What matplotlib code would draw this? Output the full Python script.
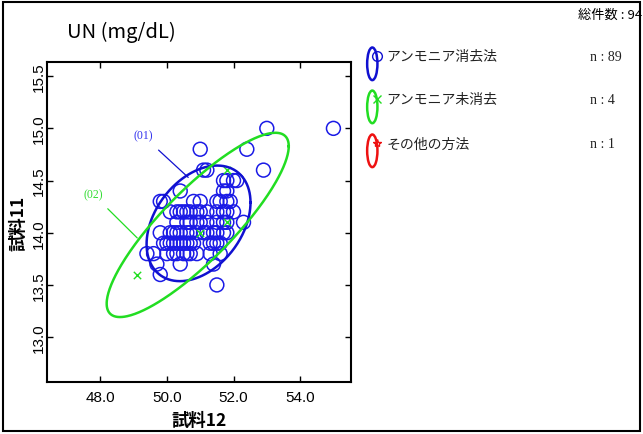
import numpy as np
import matplotlib
matplotlib.use('Agg')
import matplotlib.pyplot as plt
from matplotlib.patches import Rectangle, Ellipse

plt.rcParams['font.family'] = ['Noto Sans CJK JP', 'DejaVu Sans']

# 試料12 (x) / 試料11 (y) -- アンモニア消去法
blue_x = [53.0, 55.0, 51.0, 52.4, 52.9, 51.1, 51.2,
          51.7, 51.8, 52.0, 52.1,
          50.4, 51.7, 51.8,
          49.8, 49.9, 50.8, 51.0, 51.5, 51.6, 51.8, 51.9,
          50.1, 50.3, 50.4, 50.6, 50.7, 50.9, 51.0, 51.2, 51.5, 51.7, 51.8, 52.0,
          50.3, 50.6, 50.7, 50.9, 51.0, 51.2, 51.5, 51.7, 51.8, 52.3,
          49.8, 50.1, 50.2, 50.3, 50.4, 50.6, 50.7, 50.9, 51.1, 51.2, 51.4, 51.5, 51.7, 51.8,
          49.9, 50.0, 50.1, 50.2, 50.3, 50.4, 50.5, 50.6, 50.7, 50.8, 51.3, 51.4, 51.5, 51.6,
          49.4, 49.6, 50.0, 50.2, 50.3, 50.5, 50.6, 50.7, 50.9, 51.6,
          49.7, 50.4, 51.4,
          49.8,
          51.5,
          50.5, 51.3]
blue_y = [15.0, 15.0, 14.8, 14.8, 14.6, 14.6, 14.6,
          14.5, 14.5, 14.5, 14.5,
          14.4, 14.4, 14.4,
          14.3, 14.3, 14.3, 14.3, 14.3, 14.3, 14.3, 14.3,
          14.2, 14.2, 14.2, 14.2, 14.2, 14.2, 14.2, 14.2, 14.2, 14.2, 14.2, 14.2,
          14.1, 14.1, 14.1, 14.1, 14.1, 14.1, 14.1, 14.1, 14.1, 14.1,
          14.0, 14.0, 14.0, 14.0, 14.0, 14.0, 14.0, 14.0, 14.0, 14.0, 14.0, 14.0, 14.0, 14.0,
          13.9, 13.9, 13.9, 13.9, 13.9, 13.9, 13.9, 13.9, 13.9, 13.9, 13.9, 13.9, 13.9, 13.9,
          13.8, 13.8, 13.8, 13.8, 13.8, 13.8, 13.8, 13.8, 13.8, 13.8,
          13.7, 13.7, 13.7,
          13.6,
          13.5,
          14.2, 13.8]

# アンモニア未消去
green_x = [49.1, 51.0, 51.8, 51.8]
green_y = [13.6, 14.0, 14.1, 14.6]

# 確率楕円 (01) の統計量
blue_mean = (50.95, 14.09)
blue_sd = (0.727, 0.258)
blue_r = 0.36
k90 = 2.146

group_names = ['アンモニア消去法', 'アンモニア未消去', 'その他の方法']
group_n = [89, 4, 1]
total_n = 94


def ellipse_xy(mean, sd, r, k, num=400):
    t = np.linspace(0, 2 * np.pi, num)
    cov = np.array([[sd[0] ** 2, r * sd[0] * sd[1]], [r * sd[0] * sd[1], sd[1] ** 2]])
    L = np.linalg.cholesky(cov)
    pts = k * L @ np.vstack([np.cos(t), np.sin(t)])
    return pts[0] + mean[0], pts[1] + mean[1]


fig = plt.figure(figsize=(6.43, 4.35), dpi=100)
fig.add_artist(Rectangle((0.004, 0.006), 0.991, 0.987, transform=fig.transFigure,
                         fill=False, edgecolor='black', linewidth=1.5))
ax = fig.add_axes([0.0731, 0.1195, 0.4729, 0.7355])

ax.scatter(blue_x, blue_y, s=100, facecolors='none', edgecolors='#1a1ae6', linewidths=1.1, zorder=3)
ax.scatter(green_x, green_y, s=28, marker='x', color='#22dd22', linewidths=1.0, zorder=4)

bx, by = ellipse_xy(blue_mean, blue_sd, blue_r, k90)
ax.plot(bx, by, color='#1010d0', linewidth=1.8, zorder=5)

g = np.vstack([green_x, green_y])
g_mean = g.mean(axis=1)
g_cov = np.cov(g)
g_sd = np.sqrt(np.diag(g_cov))
g_r = g_cov[0, 1] / (g_sd[0] * g_sd[1])
gx, gy = ellipse_xy(g_mean, g_sd, g_r, k90)
ax.plot(gx, gy, color='#22dd22', linewidth=1.8, zorder=5)

ax.annotate('(01)', xy=(50.64, 14.53), xytext=(49.28, 14.93), color='#3333ee',
            fontsize=8.5, family='Liberation Serif', ha='center', va='center',
            arrowprops=dict(arrowstyle='-', color='#1010d0', lw=0.9, shrinkA=6, shrinkB=0))
ax.annotate('(02)', xy=(49.11, 13.95), xytext=(47.78, 14.37), color='#33dd33',
            fontsize=8.5, family='Liberation Serif', ha='center', va='center',
            arrowprops=dict(arrowstyle='-', color='#22dd22', lw=0.9, shrinkA=6, shrinkB=0))

ax.set_xlim(46.4, 55.53)
ax.set_ylim(12.57, 15.635)
ax.set_xticks([48, 50, 52, 54])
ax.set_yticks([13.0, 13.5, 14.0, 14.5, 15.0, 15.5])
ax.set_xticklabels(['48.0', '50.0', '52.0', '54.0'], family='Liberation Sans', fontsize=11)
ax.set_yticklabels(['13.0', '13.5', '14.0', '14.5', '15.0', '15.5'], family='Liberation Sans',
                   fontsize=11, rotation=90, va='center')
ax.tick_params(direction='in', length=4, width=1, top=True, right=True)
ax.tick_params(axis='x', pad=6)
ax.tick_params(axis='y', pad=1)
for sp in ax.spines.values():
    sp.set_linewidth(1.5)

ax.set_xlabel('試料12', fontsize=12.5, fontweight='bold', labelpad=5)
ax.set_ylabel('試料11', fontsize=12.5, fontweight='bold', labelpad=3)

fig.text(0.104, 0.926, 'UN (mg/dL)', fontsize=14.5, ha='left', va='center')
fig.text(0.899, 0.965, f'総件数 : {total_n}', fontsize=9.5, ha='left', va='center')

# 凡例
leg_colors = ['#1010d0', '#22dd22', '#ee1111']
leg_markers = ['o', 'x', '*']
leg_y = [0.868, 0.769, 0.668]
for name, n, col, mk, yy in zip(group_names, group_n, leg_colors, leg_markers, leg_y):
    fig.add_artist(Ellipse((0.579, yy - 0.017), 0.016, 0.075, transform=fig.transFigure,
                           fill=False, edgecolor=col, linewidth=1.8))
    fig.add_artist(plt.Line2D([0.586], [yy], transform=fig.transFigure, marker=mk,
                              markersize=7 if mk == 'o' else 6, markerfacecolor='none',
                              markeredgecolor=col, linestyle='none'))
    fig.text(0.601, yy, name, fontsize=10, ha='left', va='center', color='#222222')
    fig.text(0.917, yy, f'n : {n}', fontsize=10, family='Liberation Serif',
             ha='left', va='center', color='#222222')

fig.savefig('out.png', dpi=100, facecolor='white')
